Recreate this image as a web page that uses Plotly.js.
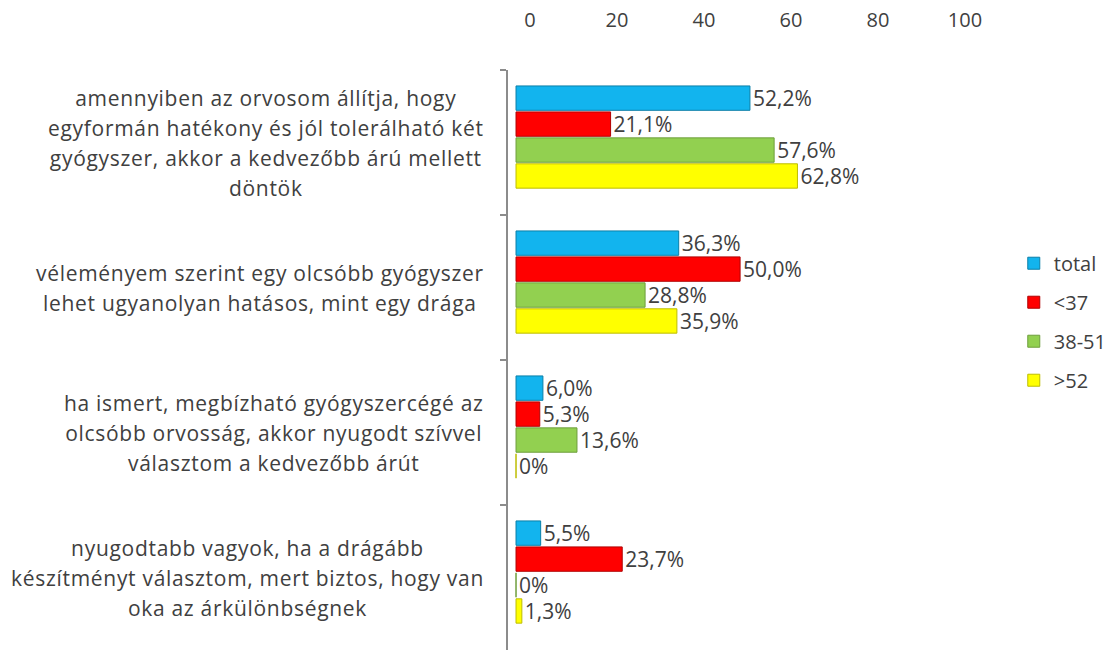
<!DOCTYPE html>
<html>
<head>
<meta charset="utf-8">
<script src="https://cdn.plot.ly/plotly-3.0.1.min.js"></script>
<style>html,body{margin:0;padding:0;background:#fff;}#chart{width:1119px;height:650px;}</style>
</head>
<body>
<div id="chart"></div>
<script>
const categories = [
  "amennyiben az orvosom állítja, hogy<br>egyformán hatékony és jól tolerálható két<br>gyógyszer, akkor a kedvezőbb árú mellett<br>döntök",
  "véleményem szerint egy olcsóbb gyógyszer<br>lehet ugyanolyan hatásos, mint egy drága",
  "ha ismert, megbízható gyógyszercégé az<br>olcsóbb orvosság, akkor nyugodt szívvel<br>választom a kedvezőbb árút",
  "nyugodtabb vagyok, ha a drágább<br>készítményt választom, mert biztos, hogy van<br>oka az árkülönbségnek"
];
const catKeys = ["c1", "c2", "c3", "c4"];
const seriesNames = ["total", "<37", "38-51", ">52"];
const totalVals = [52.2, 36.3, 6.0, 5.5];
const under37Vals = [21.1, 50.0, 5.3, 23.7];
const mid3851Vals = [57.6, 28.8, 13.6, 0];
const over52Vals = [62.8, 35.9, 0, 1.3];
const xTicks = [0, 20, 40, 60, 80, 100];

const seriesVals = [totalVals, under37Vals, mid3851Vals, over52Vals];
const fills = ["#12B4EE", "#FF0000", "#92D050", "#FFFF00"];
const lines = ["#0A7FA8", "#B00000", "#6E9E3C", "#BDBD00"];
const fmt = v => v === 0 ? "0%" : v.toFixed(1).replace(".", ",") + "%";

const barW = 0.168, pitch = 0.179, start = -0.39;
const traces = seriesVals.map((vals, i) => ({
  type: "bar",
  orientation: "h",
  name: seriesNames[i],
  y: catKeys,
  x: vals,
  width: barW,
  offset: start + i * pitch,
  text: vals.map(fmt),
  textposition: "outside",
  constraintext: "none",
  cliponaxis: false,
  textfont: {family: "Open Sans, sans-serif", size: 21, color: "#404040"},
  marker: {color: fills[i], line: {color: lines[i], width: 1}},
  legendgroup: "g" + i,
  hoverinfo: "skip"
}));
// empty helper trace so the top tick-label axis is drawn
traces.push({type: "scatter", x: [], y: [], xaxis: "x2", yaxis: "y", showlegend: false, hoverinfo: "skip"});

const annotations = catKeys.map((k, i) => ({
  xref: "paper", yref: "y",
  x: -0.045, y: k,
  xanchor: "right", yanchor: "middle",
  align: "center",
  showarrow: false,
  text: categories[i].split("<br>").map(s => '<span style="font-size:21px;letter-spacing:0.7px">' + s + '</span>').join("<br>"),
  font: {family: "Open Sans, sans-serif", size: 23, color: "#404040"}
}));

const layout = {
  width: 1119, height: 650,
  margin: {l: 508, r: 119, t: 70, b: 0},
  paper_bgcolor: "#ffffff", plot_bgcolor: "#ffffff",
  barmode: "overlay",
  showlegend: true,
  legend: {
    x: 1.028, y: 0.566, xanchor: "left", yanchor: "middle",
    traceorder: "grouped", tracegroupgap: 10,
    font: {family: "Open Sans, sans-serif", size: 20, color: "#404040"}
  },
  xaxis: {
    side: "top",
    range: [-1.79, 108],
    showticklabels: false,
    showgrid: false, zeroline: false, showline: false, ticks: ""
  },
  xaxis2: {
    overlaying: "x",
    side: "top",
    range: [-5.06, 108.05],
    tickvals: xTicks,
    ticktext: xTicks.map(String),
    showgrid: false, zeroline: false, showline: false, ticks: "",
    ticklabelstandoff: 38,
    tickfont: {family: "Open Sans, sans-serif", size: 20, color: "#404040"}
  },
  yaxis: {
    autorange: "reversed",
    type: "category",
    showticklabels: false,
    showgrid: false, zeroline: false,
    showline: true, linecolor: "#8C8C8C", linewidth: 2,
    ticks: "outside", ticklen: 6, tickcolor: "#8C8C8C", tickwidth: 2,
    tickson: "boundaries"
  },
  annotations: annotations
};

Plotly.newPlot("chart", traces, layout, {displayModeBar: false, staticPlot: true});
</script>
</body>
</html>
